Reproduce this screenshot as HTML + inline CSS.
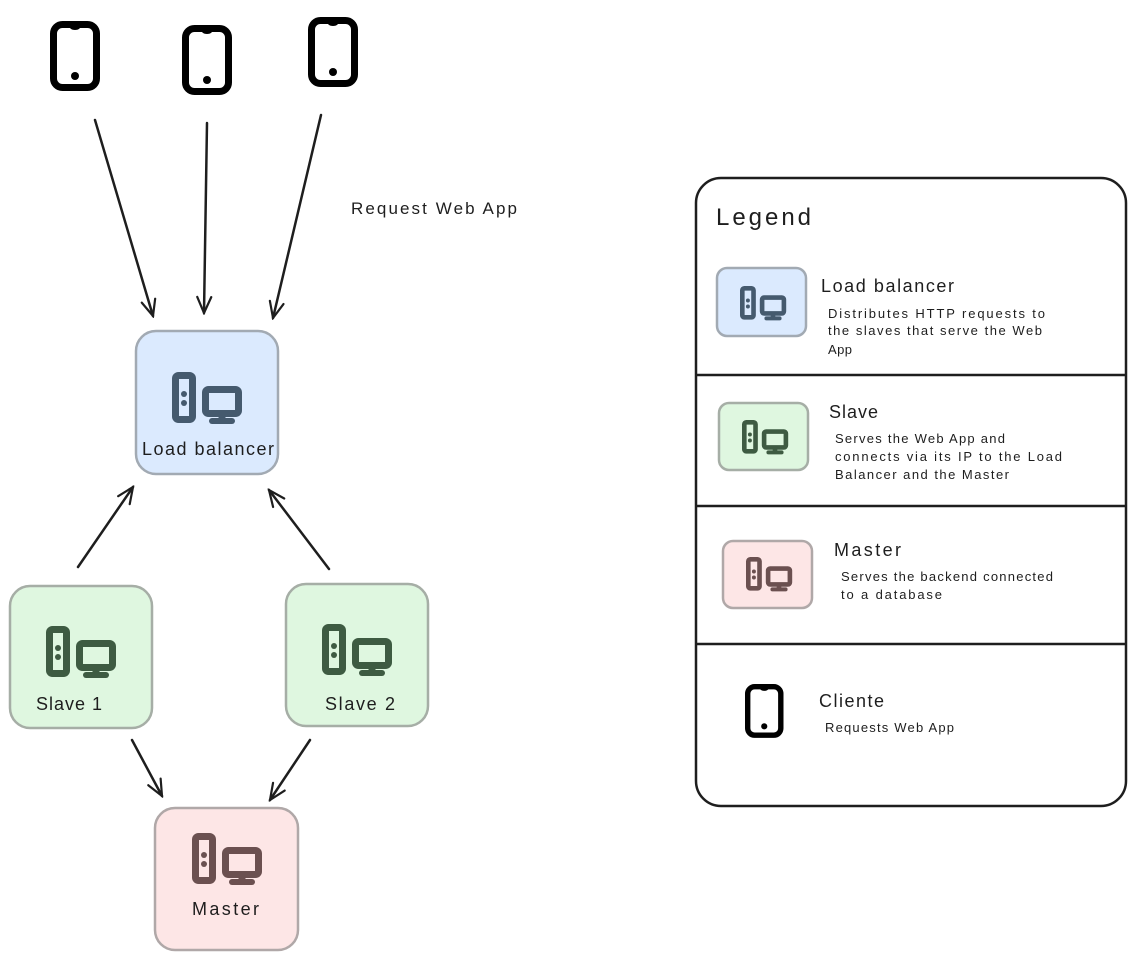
<!DOCTYPE html>
<html><head><meta charset="utf-8"><style>
html,body{margin:0;padding:0;background:#fff;}
svg{display:block;}
text{font-family:"Liberation Sans",sans-serif;fill:#1e1e1e;}
</style></head><body>
<svg width="1136" height="964" viewBox="0 0 1136 964" xmlns="http://www.w3.org/2000/svg">
<defs>
<g id="pc">
  <rect x="3.5" y="3.5" width="17" height="44" rx="3" fill="none" stroke-width="7"/>
  <circle cx="12" cy="22" r="3" stroke="none"/>
  <circle cx="12" cy="31" r="3" stroke="none"/>
  <rect x="33.5" y="17.5" width="33" height="24" rx="3" fill="none" stroke-width="7"/>
  <line x1="50" y1="41" x2="50" y2="48" stroke-width="7"/>
  <line x1="40" y1="49" x2="60" y2="49" stroke-width="6" stroke-linecap="round"/>
</g>
<g id="phone">
  <rect x="3.5" y="3.5" width="43" height="63" rx="9" fill="none" stroke="#000" stroke-width="7"/>
  <path d="M18 4 Q20 9 25 9 Q30 9 32 4 Z" fill="#000"/>
  <circle cx="25" cy="55" r="4" fill="#000"/>
</g>
<marker id="ah" viewBox="0 0 20 20" refX="18" refY="10" markerWidth="20" markerHeight="20" markerUnits="userSpaceOnUse" orient="auto">
  <path d="M2 3 L18 10 L2 17" fill="none" stroke="#1e1e1e" stroke-width="2.2" stroke-linecap="round"/>
</marker>
</defs>

<use href="#phone" transform="translate(50,21)"/>
<use href="#phone" transform="translate(182,25)"/>
<use href="#phone" transform="translate(308,17)"/>

<g stroke="#1e1e1e" stroke-width="2.5" fill="none" marker-end="url(#ah)" stroke-linecap="round">
  <line x1="95" y1="120" x2="153" y2="316"/>
  <line x1="207" y1="123" x2="204" y2="313"/>
  <line x1="321" y1="115" x2="273" y2="318"/>
  <line x1="78" y1="567" x2="133" y2="487"/>
  <line x1="329" y1="569" x2="269" y2="490"/>
  <line x1="132" y1="740" x2="162" y2="796"/>
  <line x1="310" y1="740" x2="270" y2="800"/>
</g>

<text x="351" y="214" font-size="17" textLength="166" lengthAdjust="spacing">Request Web App</text>

<rect x="136" y="331" width="142" height="143" rx="20" fill="#dbeafe" stroke="#a2aab3" stroke-width="2.5"/>
<use href="#pc" transform="translate(172,372)" fill="#455a6e" stroke="#455a6e"/>
<text x="142" y="455" font-size="18" textLength="132" lengthAdjust="spacing">Load balancer</text>

<rect x="10" y="586" width="142" height="142" rx="20" fill="#dff7e0" stroke="#a6aea6" stroke-width="2.5"/>
<use href="#pc" transform="translate(46,626)" fill="#3e5b42" stroke="#3e5b42"/>
<text x="36" y="710" font-size="18" textLength="66" lengthAdjust="spacing">Slave 1</text>

<rect x="286" y="584" width="142" height="142" rx="20" fill="#dff7e0" stroke="#a6aea6" stroke-width="2.5"/>
<use href="#pc" transform="translate(322,624)" fill="#3e5b42" stroke="#3e5b42"/>
<text x="325" y="710" font-size="18" textLength="70" lengthAdjust="spacing">Slave 2</text>

<rect x="155" y="808" width="143" height="142" rx="20" fill="#fde6e6" stroke="#b0a8a8" stroke-width="2.5"/>
<use href="#pc" transform="translate(192,833)" fill="#6b5050" stroke="#6b5050"/>
<text x="192" y="915" font-size="18" textLength="67" lengthAdjust="spacing">Master</text>

<rect x="696" y="178" width="430" height="628" rx="25" fill="#fff" stroke="#1e1e1e" stroke-width="2.5"/>
<g stroke="#1e1e1e" stroke-width="2.5">
  <line x1="696" y1="375" x2="1126" y2="375"/>
  <line x1="696" y1="506" x2="1126" y2="506"/>
  <line x1="696" y1="644" x2="1126" y2="644"/>
</g>
<text x="716" y="225" font-size="24" textLength="95" lengthAdjust="spacing">Legend</text>

<rect x="717" y="268" width="89" height="68" rx="10" fill="#dbeafe" stroke="#a2aab3" stroke-width="2.5"/>
<use href="#pc" transform="translate(740,286) scale(0.66)" fill="#455a6e" stroke="#455a6e"/>
<text x="821" y="292" font-size="18" textLength="133" lengthAdjust="spacing">Load balancer</text>
<text x="828" y="318" font-size="13" textLength="217" lengthAdjust="spacing">Distributes HTTP requests to</text>
<text x="828" y="335" font-size="13" textLength="214" lengthAdjust="spacing">the slaves that serve the Web</text>
<text x="828" y="354" font-size="13" textLength="24" lengthAdjust="spacing">App</text>

<rect x="719" y="403" width="89" height="67" rx="10" fill="#dff7e0" stroke="#a6aea6" stroke-width="2.5"/>
<use href="#pc" transform="translate(742,420) scale(0.66)" fill="#3e5b42" stroke="#3e5b42"/>
<text x="829" y="418" font-size="18" textLength="49" lengthAdjust="spacing">Slave</text>
<text x="835" y="443" font-size="13" textLength="170" lengthAdjust="spacing">Serves the Web App and</text>
<text x="835" y="461" font-size="13" textLength="227" lengthAdjust="spacing">connects via its IP to the Load</text>
<text x="835" y="479" font-size="13" textLength="174" lengthAdjust="spacing">Balancer and the Master</text>

<rect x="723" y="541" width="89" height="67" rx="10" fill="#fde6e6" stroke="#b0a8a8" stroke-width="2.5"/>
<use href="#pc" transform="translate(746,557) scale(0.66)" fill="#6b5050" stroke="#6b5050"/>
<text x="834" y="556" font-size="18" textLength="67" lengthAdjust="spacing">Master</text>
<text x="841" y="581" font-size="13" textLength="212" lengthAdjust="spacing">Serves the backend connected</text>
<text x="841" y="599" font-size="13" textLength="101" lengthAdjust="spacing">to a database</text>

<use href="#phone" transform="translate(745,684) scale(0.77)"/>
<text x="819" y="707" font-size="18" textLength="65" lengthAdjust="spacing">Cliente</text>
<text x="825" y="732" font-size="13" textLength="129" lengthAdjust="spacing">Requests Web App</text>
</svg>
</body></html>
